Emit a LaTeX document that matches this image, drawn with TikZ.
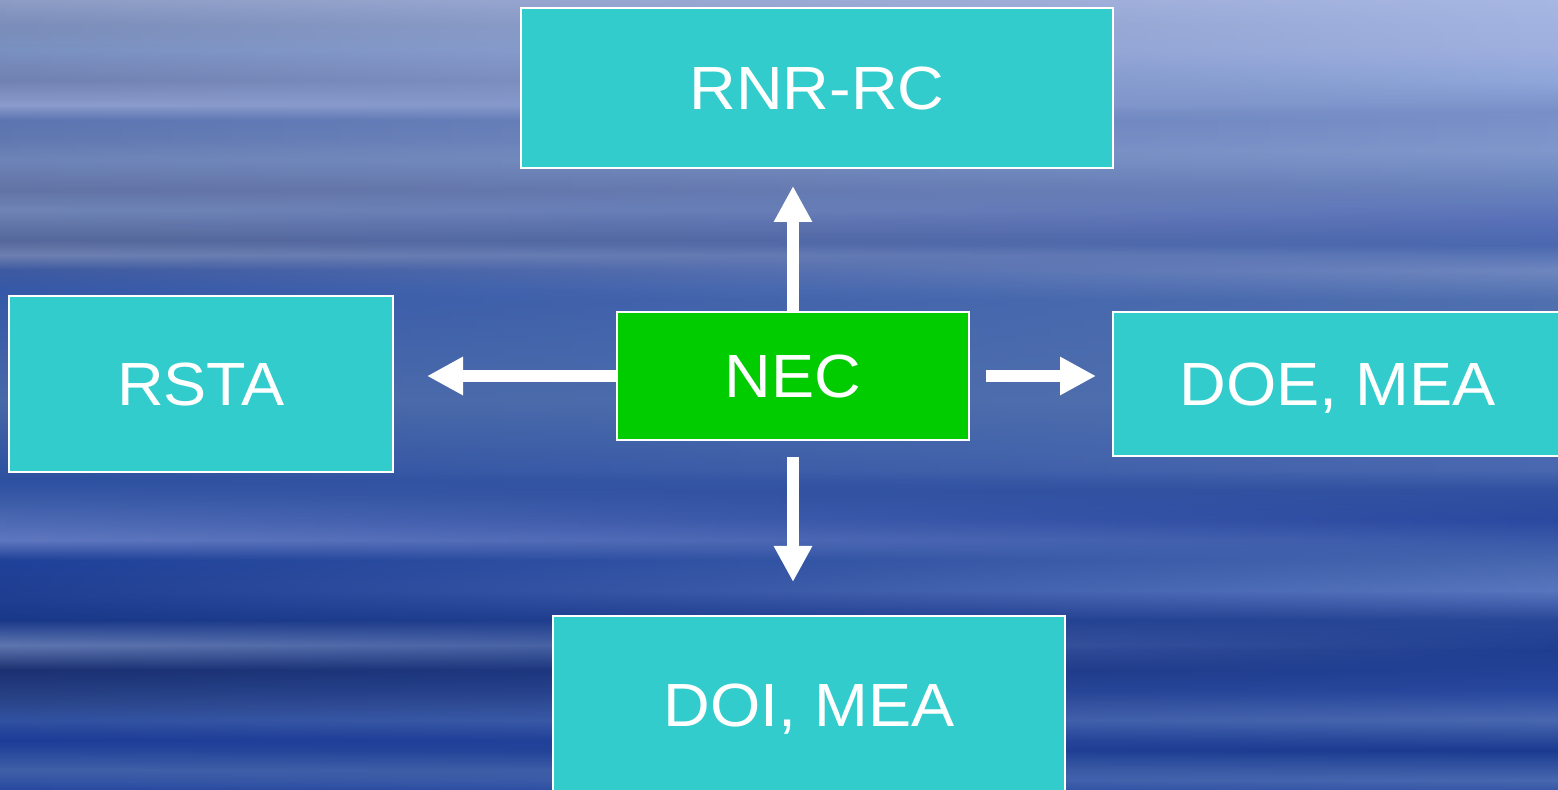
\documentclass[tikz,border=0pt]{standalone}
\usepackage{fontspec}
\setmainfont{Liberation Sans}[FakeStretch=1.06]
\usetikzlibrary{arrows.meta,fadings}
\definecolor{boxcyan}{HTML}{33CCCC}
\definecolor{boxgreen}{HTML}{00CC00}
% left column of the background
\definecolor{L790}{HTML}{2848A0}\definecolor{L770}{HTML}{4060A8}\definecolor{L740}{HTML}{1C3C98}
\definecolor{L720}{HTML}{3050A0}\definecolor{L700}{HTML}{2A4488}\definecolor{L670}{HTML}{1A3070}
\definecolor{L645}{HTML}{6078B0}\definecolor{L620}{HTML}{1A3888}\definecolor{L600}{HTML}{1E3C90}
\definecolor{L560}{HTML}{1E4098}\definecolor{L540}{HTML}{6078C0}\definecolor{L500}{HTML}{3C5CA8}
\definecolor{L480}{HTML}{2D50A0}\definecolor{L400}{HTML}{4868A8}\definecolor{L290}{HTML}{3558A8}
\definecolor{L270}{HTML}{3C58A0}\definecolor{L255}{HTML}{6E80B0}\definecolor{L240}{HTML}{56689A}
\definecolor{L210}{HTML}{7085B5}\definecolor{L190}{HTML}{6272A4}\definecolor{L160}{HTML}{6E84B8}
\definecolor{L140}{HTML}{6078B0}\definecolor{L120}{HTML}{5C74B0}\definecolor{L105}{HTML}{8C9CCC}
\definecolor{L80}{HTML}{7080B0}\definecolor{L50}{HTML}{7890C0}\definecolor{L25}{HTML}{7A8CB8}
\definecolor{L0}{HTML}{8C9CC4}
% right column of the background
\definecolor{R790}{HTML}{3858A8}\definecolor{R780}{HTML}{4868B0}\definecolor{R750}{HTML}{1A3A90}
\definecolor{R720}{HTML}{4A68B0}\definecolor{R690}{HTML}{2848A0}\definecolor{R650}{HTML}{1E3C90}
\definecolor{R620}{HTML}{2A4898}\definecolor{R590}{HTML}{5A78C0}\definecolor{R560}{HTML}{4868B0}
\definecolor{R520}{HTML}{2A48A0}\definecolor{R490}{HTML}{3050A0}\definecolor{R470}{HTML}{4A68B0}
\definecolor{R400}{HTML}{5070B0}\definecolor{R300}{HTML}{5070B0}\definecolor{R270}{HTML}{7088C0}
\definecolor{R245}{HTML}{4A68B0}\definecolor{R220}{HTML}{5870B8}\definecolor{R180}{HTML}{6E88C0}
\definecolor{R150}{HTML}{8098CC}\definecolor{R110}{HTML}{7890C8}\definecolor{R80}{HTML}{90A8DC}
\definecolor{R50}{HTML}{A0B0E0}\definecolor{R0}{HTML}{A8B8E4}
\pgfdeclareverticalshading{leftbg}{100bp}{color(0bp)=(L790); color(25bp)=(L790);
 color(26.266bp)=(L770); color(28.165bp)=(L740); color(29.430bp)=(L720); color(30.696bp)=(L700);
 color(32.595bp)=(L670); color(34.177bp)=(L645); color(35.759bp)=(L620); color(37.025bp)=(L600);
 color(39.557bp)=(L560); color(40.823bp)=(L540); color(43.354bp)=(L500); color(44.620bp)=(L480);
 color(49.684bp)=(L400); color(56.646bp)=(L290); color(57.911bp)=(L270); color(58.861bp)=(L255);
 color(59.810bp)=(L240); color(61.709bp)=(L210); color(62.975bp)=(L190); color(64.873bp)=(L160);
 color(66.139bp)=(L140); color(67.405bp)=(L120); color(68.354bp)=(L105); color(69.937bp)=(L80);
 color(71.835bp)=(L50); color(73.418bp)=(L25); color(75bp)=(L0); color(100bp)=(L0)}
\pgfdeclareverticalshading{rightbg}{100bp}{color(0bp)=(R790); color(25bp)=(R790);
 color(25.633bp)=(R780); color(27.532bp)=(R750); color(29.430bp)=(R720); color(31.329bp)=(R690);
 color(33.861bp)=(R650); color(35.759bp)=(R620); color(37.658bp)=(R590); color(39.557bp)=(R560);
 color(42.089bp)=(R520); color(43.987bp)=(R490); color(45.253bp)=(R470); color(49.684bp)=(R400);
 color(56.013bp)=(R300); color(57.911bp)=(R270); color(59.494bp)=(R245); color(61.076bp)=(R220);
 color(63.608bp)=(R180); color(65.506bp)=(R150); color(68.038bp)=(R110); color(69.937bp)=(R80);
 color(71.835bp)=(R50); color(75bp)=(R0); color(100bp)=(R0)}
\begin{document}
\begin{tikzpicture}[x=0.5pt,y=-0.5pt,
  box/.style={draw=white, line width=1pt, fill=boxcyan, text=white,
    font=\fontsize{30.5}{36}\selectfont, text height=21.8pt, text depth=0pt,
    inner sep=0pt, rectangle},
  link/.style={draw=white, line width=6pt, -{Triangle[length=18pt,width=18pt]}}]
\useasboundingbox (0,0) rectangle (1558,790);
\clip (0,0) rectangle (1558,790);
\shade[shading=leftbg] (-40,0) rectangle (1598,790);
\shade[shading=rightbg, path fading=west] (-40,0) rectangle (1598,790);
% boxes
\node[box, minimum width=296pt, minimum height=80pt] (rnr) at (817,88) {RNR-RC};
\node[box, minimum width=192pt, minimum height=88pt] (rsta) at (201,384) {RSTA};
\node[box, fill=boxgreen, minimum width=176pt, minimum height=64pt] (nec) at (793,376) {NEC};
\node[box, minimum width=224.5pt, minimum height=72pt] (doe) at (1337.5,384) {DOE, MEA};
\node[box, minimum width=256pt, minimum height=89pt] (doi) at (809,705) {DOI, MEA};
% arrows
\draw[link, shorten >=8.5pt] (nec.north) -- (nec.north |- rnr.south);
\draw[link, shorten >=16.5pt] (nec.west) -- (nec.west -| rsta.east);
\draw[link, shorten <=8pt, shorten >=8pt] (nec.east) -- (nec.east -| doe.west);
\draw[link, shorten <=8pt, shorten >=16.5pt] (nec.south) -- (nec.south |- doi.north);
\end{tikzpicture}
\end{document}
